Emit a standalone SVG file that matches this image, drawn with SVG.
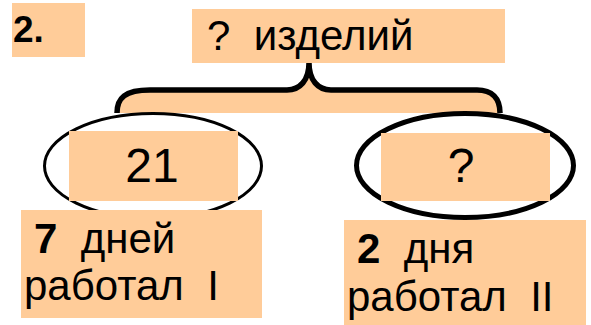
<svg xmlns="http://www.w3.org/2000/svg" width="591" height="325" viewBox="0 0 591 325">
<style>
.box{fill:#FFCC99;stroke:none}
.t{font-family:"Liberation Sans",Arial,sans-serif;fill:#000}
.b{font-weight:bold}
.ell{fill:none;stroke:#000}
</style>
<rect width="591" height="325" fill="#fff"/>
<g id="connectors">
<path d="M117,113 C117,98 125,90 150,90 L287,90 C300,90 309,80 309,63 C309,80 318,90 331,90 L477,90 C492,90 500,98 500,113 Z" class="box"/>
<path d="M117,113 C117,98 125,90 150,90 L287,90 C300,90 309,80 309,63 C309,80 318,90 331,90 L477,90 C492,90 500,98 500,113" fill="none" stroke="#000" stroke-width="5.5"/>
</g>
<g id="label-num">
<rect class="box" x="12" y="3" width="73" height="54"/>
<text class="t b" x="13" y="42" font-size="37">2.</text>
</g>
<g id="total">
<rect class="box" x="192" y="9" width="313" height="54"/>
<text class="t" x="207" y="50" font-size="42" xml:space="preserve">?  изделий</text>
</g>
<g id="part1">
<ellipse class="ell" cx="153" cy="166" rx="108.5" ry="52.5" stroke-width="3"/>
<rect class="box" x="69" y="131" width="169" height="70"/>
<text class="t" x="152" y="182" font-size="48" text-anchor="middle">21</text>
</g>
<g id="part2">
<ellipse class="ell" cx="465" cy="165.5" rx="108.5" ry="52" stroke-width="5"/>
<rect class="box" x="381" y="133" width="169" height="68"/>
<text class="t" x="461" y="182" font-size="48" text-anchor="middle">?</text>
</g>
<g id="info1">
<rect class="box" x="21" y="210" width="241" height="108"/>
<text class="t" font-size="42" xml:space="preserve"><tspan x="34" y="253"><tspan class="b">7</tspan>  дней</tspan><tspan x="24" y="300">работал  I</tspan></text>
</g>
<g id="info2">
<rect class="box" x="344" y="220" width="242" height="105"/>
<text class="t" font-size="42" xml:space="preserve"><tspan x="357" y="263"><tspan class="b">2</tspan>  дня</tspan><tspan x="347" y="311">работал  II</tspan></text>
</g>
</svg>
